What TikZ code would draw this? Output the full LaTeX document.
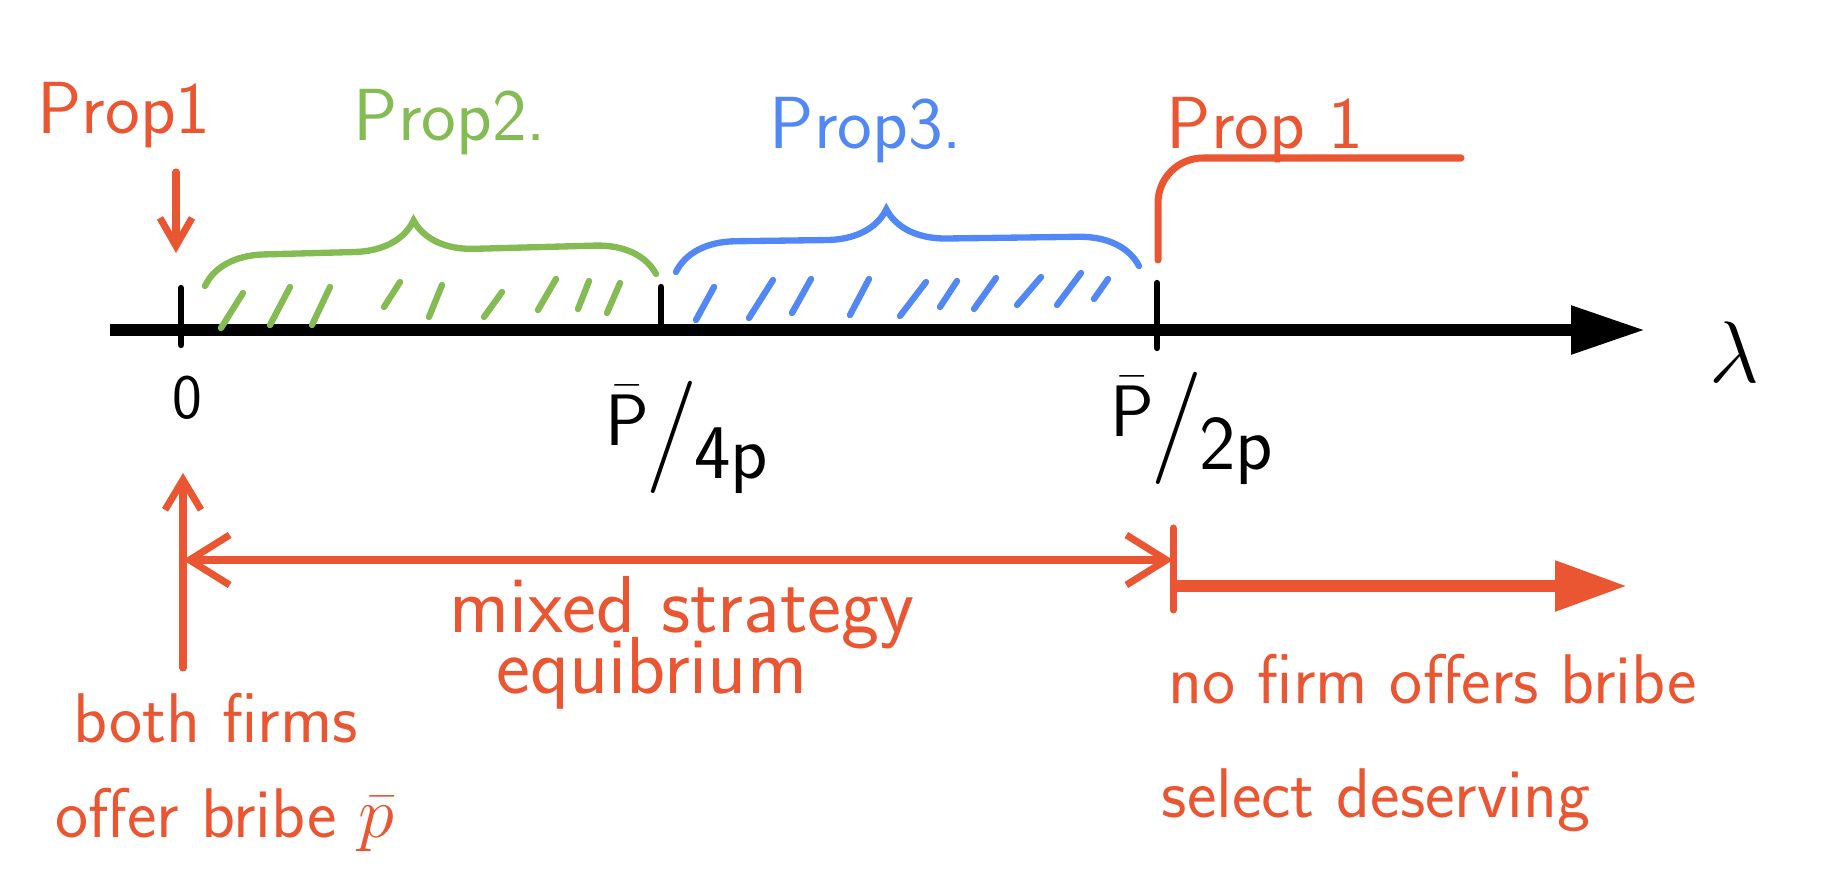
\documentclass[tikz,border=0pt]{standalone}
\usepackage{amsmath}
\usepackage{amssymb}
\usetikzlibrary{positioning, arrows.meta, decorations.pathreplacing}

\definecolor{inkred}{RGB}{234,85,50}
\definecolor{inkgreen}{RGB}{132,187,83}
\definecolor{inkblue}{RGB}{82,136,246}
\newcommand{\barfrac}[1]{\raisebox{0.25em}{$\bar{\mathsf{P}}$}\kern-0.05em{\fontsize{32}{32}\selectfont /}\kern-0.05em\raisebox{-0.18em}{#1}}

\begin{document}
\begin{tikzpicture}[line cap=round,
    hand/.style={font=\sffamily\fontsize{#1}{#1}\selectfont, inner sep=0pt},
    hand/.default=21,
    pen/.style={line width=2pt, inkred},
    brc/.style={line width=1.8pt, decorate, decoration={brace, amplitude=0.6cm, aspect=#1}}]
    \useasboundingbox (0,0) rectangle (18.36,8.94);
    \coordinate (o) at (1.10,5.64);
    \coordinate (tip) at (16.45,5.64);
    \coordinate (t0) at (1.81,5.64);
    \coordinate (t1) at (6.61,5.64);
    \coordinate (t2) at (11.57,5.64);
    \draw[line width=3.4pt, line cap=butt, -{Triangle[length=7.4mm,width=4.6mm]}] (o) -- (tip);
    \draw[line width=1.8pt] ([yshift=-1.5mm]t0) -- ([yshift=4.2mm]t0);
    \draw[line width=1.8pt] (t1) -- ([yshift=4.3mm]t1);
    \draw[line width=1.8pt] ([yshift=-1.8mm]t2) -- ([yshift=4.7mm]t2);
    \node[hand=18] (zero) at (1.87,4.96) {0};
    \node[hand=22, anchor=base] (quarter) at (6.87,4.29) {\barfrac{4p}};
    \node[hand=22, anchor=base] (half) at (11.92,4.38) {\barfrac{2p}};
    \node[font=\fontsize{30}{30}\selectfont, inner sep=0pt] (lam) at (17.34,5.42) {$\lambda$};

    \node[hand, inkred, anchor=base] (prop1l) at (1.24,7.61) {Prop1};
    \node[hand, inkgreen, anchor=base] (prop2) at (4.50,7.54) {Prop2.};
    \node[hand, inkblue, anchor=base] (prop3) at (8.66,7.46) {Prop3.};
    \node[hand, inkred, anchor=base] (prop1r) at (12.65,7.46) {Prop 1};
    \coordinate (a0) at (1.76,7.22);
    \coordinate (a1) at (1.76,6.41);
    \draw[pen, -{Straight Barb[length=2.8mm,width=3.2mm]}] (a0) -- (a1);

    \draw[inkgreen, brc=0.466] (2.05,6.08) -- (6.56,6.20);
    \draw[inkblue, brc=0.456] (6.76,6.22) -- (11.39,6.28);
    \foreach \xa/\ya/\xb/\yb in {2.21/5.66/2.43/6.01, 2.70/5.69/2.90/6.07, 3.12/5.69/3.30/6.07,
        3.84/5.87/4.00/6.12, 4.29/5.77/4.42/6.09, 4.84/5.77/5.02/6.02,
        5.38/5.84/5.56/6.15, 5.78/5.85/5.89/6.13, 6.07/5.81/6.20/6.11}
        \draw[inkgreen, line width=1.8pt] (\xa,\ya) -- (\xb,\yb);
    \foreach \xa/\ya/\xb/\yb in {6.96/5.74/7.14/6.07, 7.49/5.76/7.73/6.14, 7.92/5.81/8.11/6.15,
        8.50/5.79/8.69/6.15, 9.00/5.78/9.26/6.12, 9.40/5.87/9.57/6.13,
        9.74/5.85/9.96/6.16, 10.17/5.89/10.41/6.17, 10.57/5.89/10.81/6.21, 10.94/5.95/11.08/6.15}
        \draw[inkblue, line width=1.8pt] (\xa,\ya) -- (\xb,\yb);
    \draw[pen, rounded corners=0.45cm] (11.58,6.34) |- (14.61,7.36);

    \coordinate (u0) at (1.83,2.26);
    \coordinate (u1) at (1.83,4.21);
    \coordinate (m0) at (1.83,3.34);
    \coordinate (m1) at (11.73,3.34);
    \coordinate (s0) at (11.73,2.84);
    \coordinate (s1) at (11.73,3.66);
    \coordinate (n0) at (11.73,3.08);
    \coordinate (n1) at (16.27,3.08);
    \draw[pen, -{Straight Barb[length=3mm,width=3.6mm]}] (u0) -- (u1);
    \draw[pen, {Straight Barb[length=4mm,width=5mm]}-{Straight Barb[length=4mm,width=5mm]}] (m0) -- (m1);
    \draw[pen] (s0) -- (s1);
    \draw[inkred, line width=3.4pt, line cap=butt, -{Triangle[length=7.2mm,width=4.8mm]}] (n0) -- (n1);

    \node[hand=23, inkred, anchor=base] (mix1) at (6.82,2.62) {mixed strategy};
    \node[hand=23, inkred, anchor=base] (mix2) at (6.52,2.01) {equibrium};
    \node[hand=20, inkred, anchor=base west] (both1) at (0.73,1.52) {both firms};
    \node[hand=20, inkred, anchor=base west] (both2) at (0.55,0.57) {offer bribe $\bar{p}$};
    \node[hand=20, inkred, anchor=base west] (none1) at (11.68,1.91) {no firm offers bribe};
    \node[hand=20, inkred, anchor=base west] (none2) at (11.61,0.77) {select deserving};
\end{tikzpicture}
\end{document}
